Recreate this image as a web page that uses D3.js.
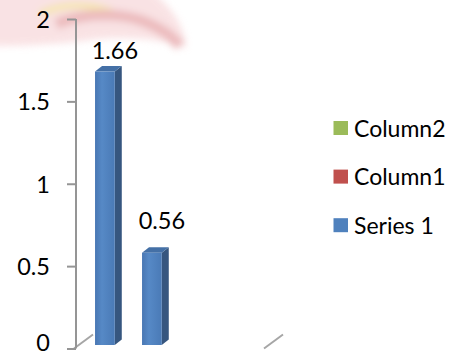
<!DOCTYPE html>
<html>
<head>
<meta charset="utf-8">
<script src="https://cdn.jsdelivr.net/npm/d3@7"></script>
<style>
  html, body { margin: 0; padding: 0; background: #fff; }
  svg { display: block; }
  text { font-family: Lato, "Open Sans", sans-serif; fill: #000; }
</style>
</head>
<body>
<svg id="chart" width="456" height="356"></svg>
<script>
// Chart data
const categories = ["Category 1", "Category 2", "Category 3", "Category 4"];
const series1 = [1.66, 0.56, null, null];
const legendNames = ["Column2", "Column1", "Series 1"];
const legendColors = ["#9bbb59", "#c0504d", "#4f81bd"];
const yTicks = [0, 0.5, 1, 1.5, 2];
const yTickLabels = ["0", "0.5", "1", "1.5", "2"];

const svg = d3.select("#chart");
const W = 456, H = 356;

// Soft decorative emblem in the top-left corner
const defs = svg.append("defs");
const blur = defs.append("filter").attr("id", "soft").attr("x", "-30%").attr("y", "-50%")
  .attr("width", "160%").attr("height", "200%");
blur.append("feGaussianBlur").attr("stdDeviation", 3.5);

const emblem = svg.append("g").attr("filter", "url(#soft)").attr("opacity", 0.6);
emblem.append("path")
  .attr("d", "M-10,-10 L150,-10 C170,5 185,25 186,48 C160,38 120,36 90,40 C60,44 30,46 -10,46 Z")
  .attr("fill", "#f6d0d3");
emblem.append("path")
  .attr("d", "M40,14 C60,4 90,2 112,12")
  .attr("fill", "none").attr("stroke", "#f0d67c").attr("stroke-width", 7);
emblem.append("path")
  .attr("d", "M56,24 C85,12 125,12 150,24 C165,31 174,38 180,46")
  .attr("fill", "none").attr("stroke", "#e08e92").attr("stroke-width", 11);

// Scales
const axisX = 76;
const y = d3.scaleLinear().domain([0, 2]).range([348.5, 19]);
const yBar = d3.scaleLinear().domain([0, 2]).range([345, 15.5]);
const yLabel = d3.scaleLinear().domain([0, 2]).range([316, 6.4]);
const x = d3.scaleBand().domain(categories).range([axisX, 264]).padding(0);

const depthX = 7, depthY = -5.5;
const barOffset = 0.405, barWidthRatio = 0.42;

// Floor side edges
const floorColor = "#a6a6a6";
[x.range()[0] - 2, x.range()[1]].forEach(fx => {
  svg.append("line")
    .attr("x1", fx).attr("y1", y(0))
    .attr("x2", fx + 19).attr("y2", y(0) - 14)
    .attr("stroke", floorColor).attr("stroke-width", 2);
});

// Value axis
const axis = d3.axisLeft(y).tickValues(yTicks).tickSize(9).tickFormat((d, i) => yTickLabels[i]);
const gAxis = svg.append("g").attr("transform", `translate(${axisX},0)`).call(axis);
gAxis.select(".domain").remove();
gAxis.append("line").attr("x1", 0).attr("x2", 0).attr("y1", y(2)).attr("y2", y(0))
  .attr("stroke", "#959595").attr("stroke-width", 2);
gAxis.selectAll(".tick line").attr("stroke", "#959595").attr("stroke-width", 2);
gAxis.selectAll(".tick text")
  .attr("x", -26).attr("dy", null)
  // keep the bottom label inside the canvas
  .attr("y", d => Math.min(8.5, H - 6 - y(d)))
  .attr("text-anchor", "end")
  .style("font-family", "Lato, 'Open Sans', sans-serif")
  .style("font-size", "23.5px").attr("fill", "#000");

// Front-face shading
const grad = defs.append("linearGradient").attr("id", "front").attr("x1", "0").attr("x2", "1");
grad.append("stop").attr("offset", "0").attr("stop-color", "#4977b3");
grad.append("stop").attr("offset", "0.35").attr("stop-color", "#5689c6");
grad.append("stop").attr("offset", "1").attr("stop-color", "#4a7ab6");

// 3D columns
const bars = categories.map((c, i) => ({ c, v: series1[i] })).filter(d => d.v != null);
const gBars = svg.append("g");
bars.forEach(d => {
  const bw = x.bandwidth() * barWidthRatio;
  const x0 = x(d.c) + x.bandwidth() * barOffset;
  const x1 = x0 + bw;
  const yt = yBar(d.v), yb = yBar(0);
  // side
  gBars.append("path")
    .attr("d", `M${x1},${yt} L${x1 + depthX},${yt + depthY} L${x1 + depthX},${yb + depthY} L${x1},${yb} Z`)
    .attr("fill", "#36567f");
  // top
  gBars.append("path")
    .attr("d", `M${x0},${yt} L${x0 + depthX},${yt + depthY} L${x1 + depthX},${yt + depthY} L${x1},${yt} Z`)
    .attr("fill", "#4470a6");
  // front
  gBars.append("rect")
    .attr("x", x0).attr("y", yt).attr("width", bw).attr("height", yb - yt)
    .attr("fill", "url(#front)");
  // value label
  svg.append("text")
    .attr("x", x0 + bw / 2 + 10).attr("y", yLabel(d.v))
    .attr("text-anchor", "middle")
    .style("font-size", "23.5px")
    .text(d3.format(".2f")(d.v));
});

// Legend
const legend = svg.append("g");
legendNames.forEach((name, i) => {
  const ly = 121 + i * 48.6;
  legend.append("rect").attr("x", 333.5).attr("y", ly).attr("width", 14.5).attr("height", 14)
    .attr("fill", legendColors[i]);
  legend.append("text").attr("x", 354).attr("y", ly + 15.5)
    .style("font-size", "23px")
    .text(name);
});
</script>
</body>
</html>
